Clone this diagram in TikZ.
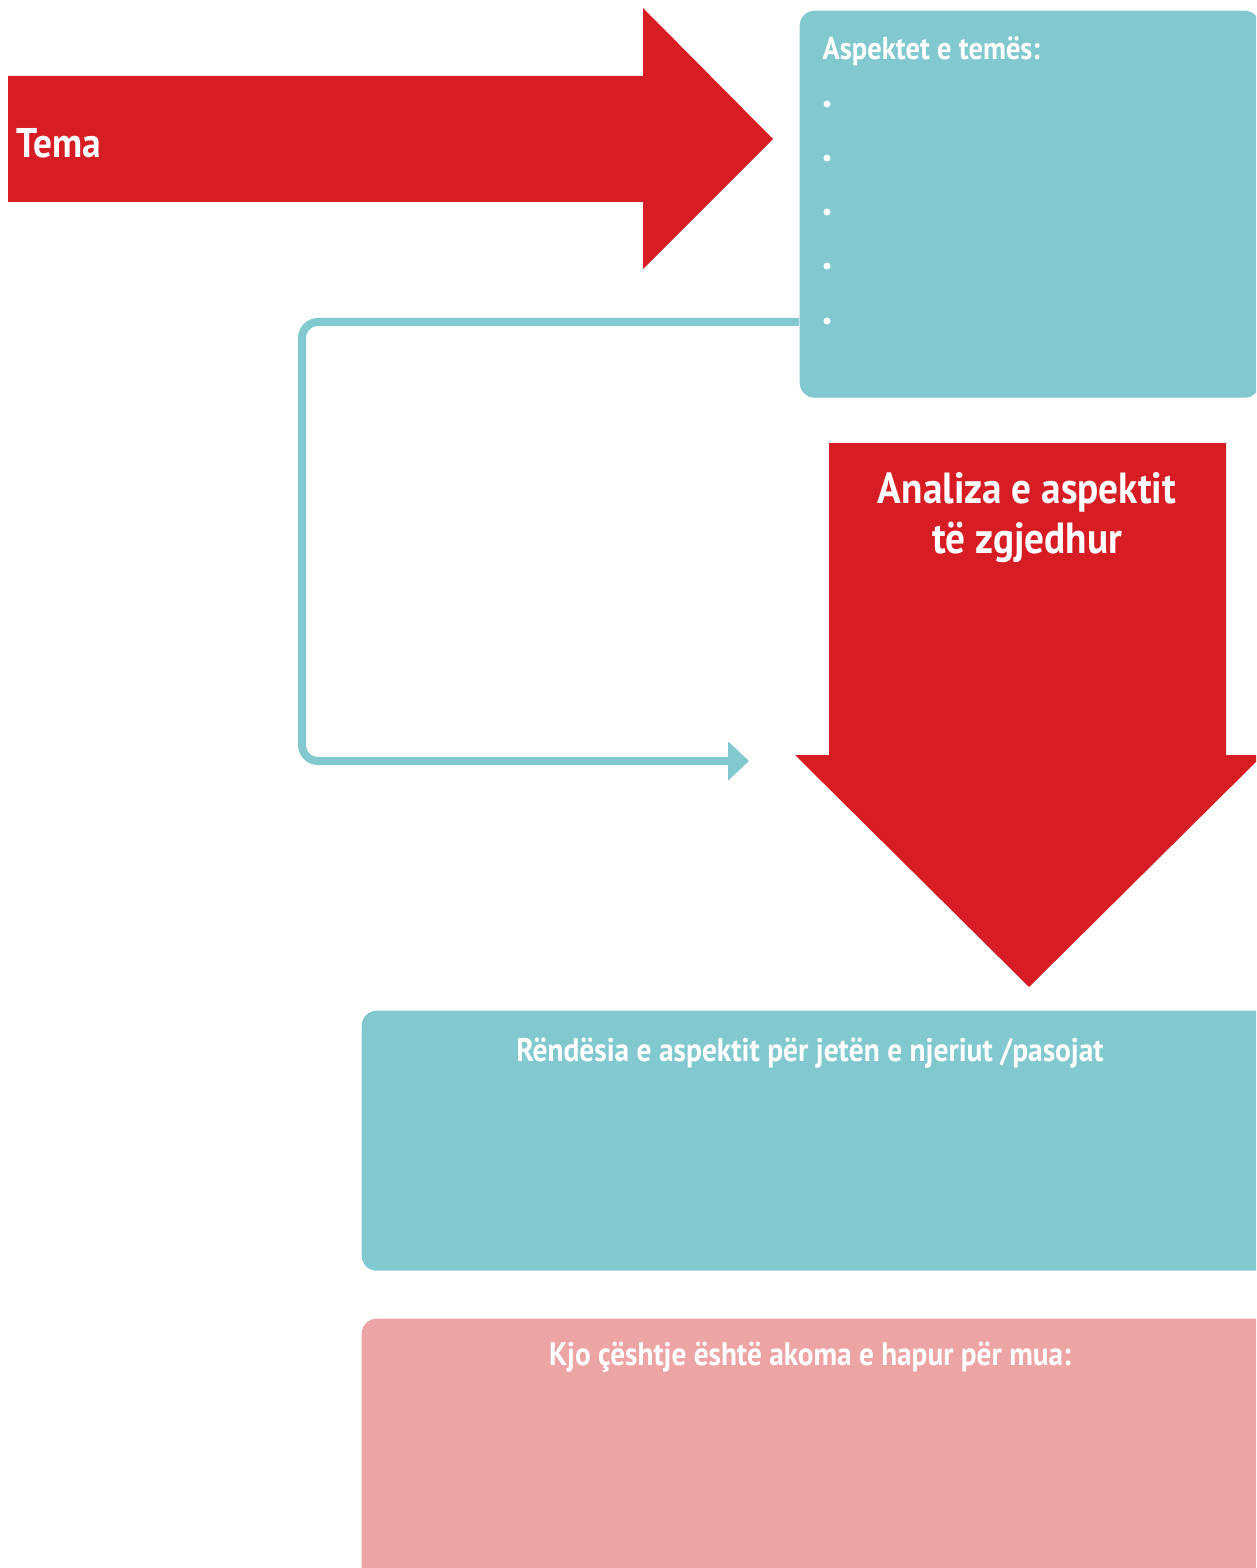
\documentclass[tikz,border=0pt]{standalone}
\usepackage{fontspec}
\setmainfont[FakeStretch=0.9]{PT Sans}
\usepackage{xcolor}
\usetikzlibrary{arrows.meta,positioning}

\definecolor{temared}{HTML}{D71D24}
\definecolor{temateal}{HTML}{81C8CF}
\definecolor{temapink}{HTML}{EDA4A5}

\tikzset{
  redarrow/.style={fill=temared, draw=none},
  tealbox/.style={fill=temateal, draw=none, rounded corners=0.15cm, inner sep=0pt, anchor=north west},
  pinkbox/.style={fill=temapink, draw=none, rounded corners=0.15cm, inner sep=0pt, anchor=north west},
  boxtext/.style={text=white, inner sep=0pt, font=\bfseries},
  loopline/.style={draw=temateal, line width=0.08cm, rounded corners=0.16cm,
    -{Triangle[length=0.21cm, width=0.38cm]}}
}

\begin{document}
\begin{tikzpicture}[x=1cm,y=1cm]
        \useasboundingbox (0,0) rectangle (12.56,-15.68);
        \clip (0,0) rectangle (12.56,-15.68);

        % Red arrow to the right
        \fill[redarrow] (0.08,-0.76) -- (6.43,-0.76) -- (6.43,-0.08) -- (7.73,-1.39)
          -- (6.43,-2.69) -- (6.43,-2.02) -- (0.08,-2.02) -- cycle;
        \node[boxtext, anchor=base west] (tema) at (0.16,-1.58) {\fontsize{11.8}{14}\selectfont Tema};

        % Aspects box
        \node[tealbox, minimum width=4.60cm, minimum height=3.87cm] (aspekte) at (7.99,-0.10) {};
        \node[boxtext, anchor=base west] (aspektitle) at (8.22,-0.60) {\fontsize{9}{12}\selectfont Aspektet e temës:};
        \foreach \y [count=\i] in {1.04,1.58,2.12,2.66,3.21}
          \fill[white] (8.27,-\y) circle (0.035cm) coordinate (bullet\i);

        % Red arrow downwards
        \fill[redarrow] (8.29,-4.43) -- (12.26,-4.43) -- (12.26,-7.55) -- (12.63,-7.55)
          -- (10.29,-9.87) -- (7.95,-7.55) -- (8.29,-7.55) -- cycle;
        \node[boxtext, align=center, anchor=base, font=\bfseries\fontsize{12.4}{14.2}\selectfont]
          (analiza) at (10.27,-5.53) {Analiza e aspektit\\ të zgjedhur};

        % Loop connector
        \coordinate (loopend) at (7.49,-7.61);
        \draw[loopline] (aspekte.west |- 0,-3.22) -| (3.02,-7.61) -- (loopend);

        % Importance box
        \node[tealbox, minimum width=9.10cm, minimum height=2.60cm] (rendesia) at (3.61,-10.10) {};
        \node[boxtext, anchor=base] (rendtitle) at (8.10,-10.61)
          {\fontsize{9.3}{10}\selectfont Rëndësia e aspektit për jetën e njeriut /pasojat};

        % Open question box
        \node[pinkbox, minimum width=9.10cm, minimum height=2.80cm] (hapur) at (3.61,-13.18) {};
        \node[boxtext, anchor=base] (hapurtitle) at (8.10,-13.65)
          {\fontsize{9.25}{10}\selectfont Kjo çështje është akoma e hapur për mua:};

        \end{tikzpicture}
\end{document}
